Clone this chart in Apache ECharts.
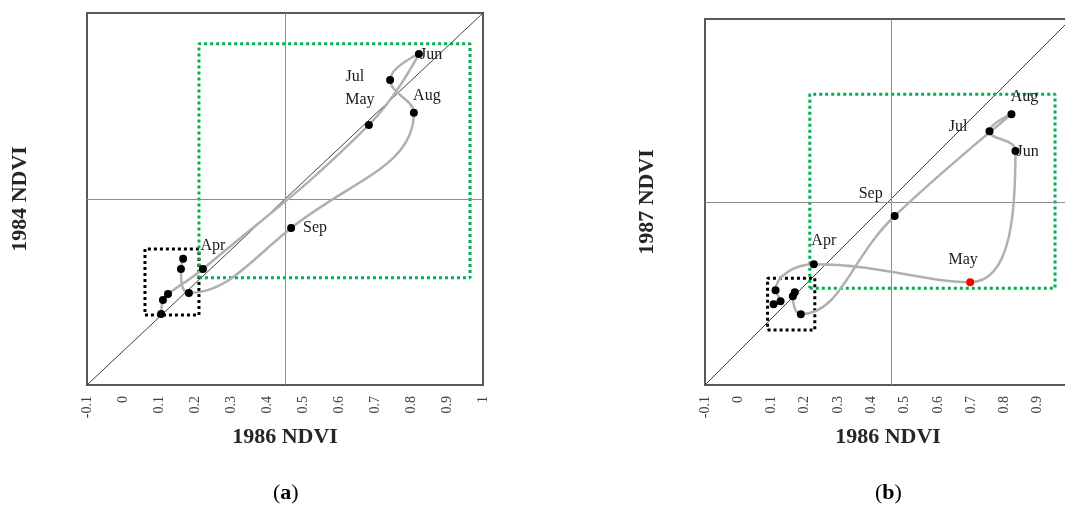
<!DOCTYPE html>
<html>
<head>
<meta charset="utf-8">
<script src="https://cdn.jsdelivr.net/npm/echarts@6/dist/echarts.min.js"></script>
<style>
  html, body { margin: 0; padding: 0; background: #fff; }
  #chart { width: 1065px; height: 506px; }
</style>
</head>
<body>
<div id="chart"></div>
<script>
// months, Jan..Dec
const months = ["Jan", "Feb", "Mar", "Apr", "May", "Jun", "Jul", "Aug", "Sep", "Oct", "Nov", "Dec"];

// panel (a): 1986 NDVI (x) vs 1984 NDVI (y)
const ndvi1986a = [0.106, 0.111, 0.125, 0.222, 0.683, 0.822, 0.742, 0.808, 0.467, 0.183, 0.161, 0.167];
const ndvi1984 = [0.110, 0.151, 0.169, 0.243, 0.669, 0.879, 0.802, 0.705, 0.364, 0.172, 0.243, 0.273];

// panel (b): 1986 NDVI (x) vs 1987 NDVI (y)
const ndvi1986b = [0.106, 0.127, 0.112, 0.227, 0.697, 0.833, 0.755, 0.821, 0.470, 0.188, 0.164, 0.170];
const ndvi1987 = [0.143, 0.152, 0.185, 0.263, 0.209, 0.603, 0.663, 0.714, 0.408, 0.113, 0.167, 0.179];

// month names that get a label
const labelledMonths = ["Apr", "May", "Jun", "Jul", "Aug", "Sep"];

// mean lines (x, y) and the dotted boxes [x0, y0, x1, y1]
const meanA = [0.447, 0.447];
const meanB = [0.455, 0.45];
const blackBoxA = [0.061, 0.107, 0.211, 0.302];
const greenBoxA = [0.211, 0.217, 0.964, 0.909];
const blackBoxB = [0.088, 0.065, 0.230, 0.221];
const greenBoxB = [0.215, 0.191, 0.952, 0.774];

// axis ticks
const axisMin = -0.1, axisMax = 1, axisStep = 0.1;

const serif = "Liberation Serif";

// label placement per panel (style only)
const labelPosA = {
  Apr: { position: "top", offset: [10, -6] },
  May: { position: "top", offset: [-9, -8] },
  Jun: { position: "right", offset: [-8, 1] },
  Jul: { position: "left", distance: 22, offset: [0, -3] },
  Aug: { position: "top", offset: [13, 0] },
  Sep: { position: "right", distance: 8 }
};
const labelPosB = {
  Apr: { position: "top", offset: [10, -6] },
  May: { position: "top", offset: [-7, -5] },
  Jun: { position: "right", offset: [-8, 1] },
  Jul: { position: "left", distance: 18, offset: [0, -4] },
  Aug: { position: "top", offset: [13, 0] },
  Sep: { position: "left", distance: 8, offset: [0, -22] }
};

function points(xs, ys, pos, redMonth) {
  return months.map((m, i) => {
    const item = { value: [xs[i], ys[i]], name: m };
    if (labelledMonths.includes(m)) {
      item.label = Object.assign({ show: true, formatter: m }, pos[m]);
    }
    if (m === redMonth) item.itemStyle = { color: "#ff0000" };
    return item;
  });
}

function box(b) {
  return [[b[0], b[1]], [b[2], b[1]], [b[2], b[3]], [b[0], b[3]], [b[0], b[1]]];
}

function boxSeries(b, idx, color) {
  return {
    type: "line",
    xAxisIndex: idx,
    yAxisIndex: idx,
    data: box(b),
    symbol: "none",
    silent: true,
    z: 2,
    lineStyle: { color: color, width: 3, type: [3, 3], cap: "butt" }
  };
}

function refSeries(idx, mean) {
  return {
    type: "line",
    xAxisIndex: idx,
    yAxisIndex: idx,
    data: [[axisMin, axisMin], [axisMax, axisMax]],
    symbol: "none",
    silent: true,
    z: 1,
    lineStyle: { color: "#404040", width: 1 },
    markLine: {
      silent: true,
      symbol: "none",
      label: { show: false },
      lineStyle: { color: "#8c8c8c", width: 1, type: "solid" },
      data: [{ xAxis: mean[0] }, { yAxis: mean[1] }]
    }
  };
}

function curveSeries(idx, data) {
  return {
    type: "line",
    xAxisIndex: idx,
    yAxisIndex: idx,
    data: data,
    smooth: 0.45,
    symbol: "circle",
    symbolSize: 8,
    z: 5,
    itemStyle: { color: "#000" },
    lineStyle: { color: "#b0b0b0", width: 2.5 },
    label: { fontFamily: serif, fontSize: 16, color: "#1a1a1a" }
  };
}

function xAxisCfg(idx, name) {
  return {
    type: "value",
    gridIndex: idx,
    min: axisMin,
    max: axisMax,
    interval: axisStep,
    name: name,
    nameLocation: "middle",
    nameGap: 41,
    nameTextStyle: { fontFamily: serif, fontSize: 22, fontWeight: "bold", color: "#262626" },
    axisLine: { show: false },
    axisTick: { show: false },
    splitLine: { show: false },
    axisLabel: {
      rotate: 90,
      margin: 11,
      fontFamily: serif,
      fontSize: 14,
      color: "#404040",
      formatter: v => String(+v.toFixed(1))
    }
  };
}

function yAxisCfg(idx, name, gap) {
  return {
    type: "value",
    gridIndex: idx,
    min: axisMin,
    max: axisMax,
    interval: axisStep,
    name: name,
    nameLocation: "middle",
    nameGap: gap,
    nameTextStyle: { fontFamily: serif, fontSize: 22, fontWeight: "bold", color: "#262626" },
    axisLine: { show: false },
    axisTick: { show: false },
    splitLine: { show: false },
    axisLabel: { show: false }
  };
}

const chart = echarts.init(document.getElementById("chart"));
chart.setOption({
  animation: false,
  backgroundColor: "#fff",
  grid: [
    { left: 87, top: 13, width: 396, height: 372, show: true, borderColor: "#595959", borderWidth: 2, outerBoundsMode: "none", containLabel: false },
    { left: 705, top: 19, width: 366, height: 366, show: true, borderColor: "#595959", borderWidth: 2, outerBoundsMode: "none", containLabel: false }
  ],
  xAxis: [xAxisCfg(0, "1986 NDVI"), xAxisCfg(1, "1986 NDVI")],
  yAxis: [yAxisCfg(0, "1984 NDVI", 56), yAxisCfg(1, "1987 NDVI", 47)],
  title: [
    {
      text: "({a|a})",
      left: 268,
      top: 477,
      textStyle: { fontFamily: serif, fontSize: 22, fontWeight: "normal", color: "#000", rich: { a: { fontFamily: serif, fontSize: 22, fontWeight: "bold" } } }
    },
    {
      text: "({b|b})",
      left: 870,
      top: 477,
      textStyle: { fontFamily: serif, fontSize: 22, fontWeight: "normal", color: "#000", rich: { b: { fontFamily: serif, fontSize: 22, fontWeight: "bold" } } }
    }
  ],
  series: [
    refSeries(0, meanA),
    boxSeries(blackBoxA, 0, "#000"),
    boxSeries(greenBoxA, 0, "#00b050"),
    curveSeries(0, points(ndvi1986a, ndvi1984, labelPosA, null)),
    refSeries(1, meanB),
    boxSeries(blackBoxB, 1, "#000"),
    boxSeries(greenBoxB, 1, "#00b050"),
    curveSeries(1, points(ndvi1986b, ndvi1987, labelPosB, "May"))
  ]
});
</script>
</body>
</html>
